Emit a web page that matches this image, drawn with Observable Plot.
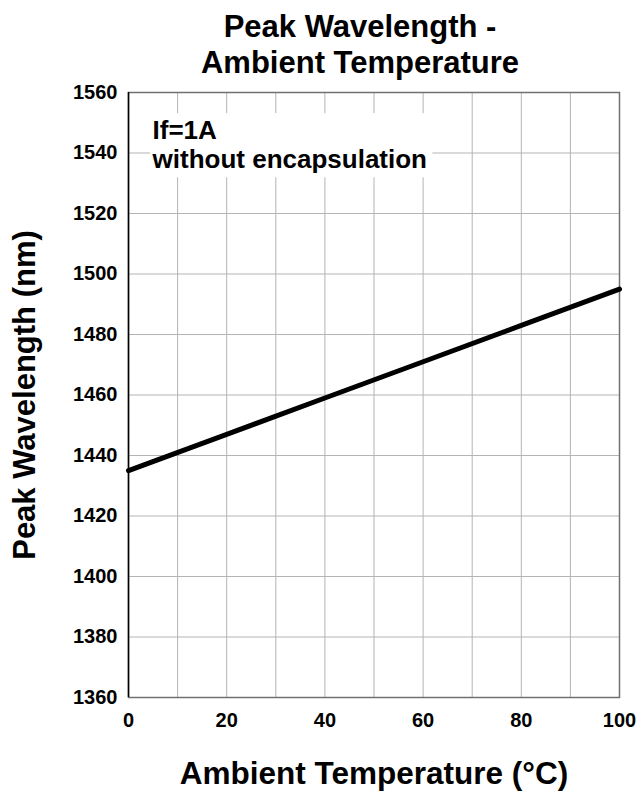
<!DOCTYPE html>
<html>
<head>
<meta charset="utf-8">
<script src="https://cdn.jsdelivr.net/npm/d3@7"></script>
<script src="https://cdn.jsdelivr.net/npm/@observablehq/plot@0.6"></script>
<style>
  html, body { margin: 0; padding: 0; background: #fff; }
  svg { display: block; }
</style>
</head>
<body>
<div id="chart"></div>
<script>
// Data
const temperature = [0, 20, 40, 60, 80, 100];               // °C
const wavelength  = [1435, 1447, 1459, 1471, 1483, 1495];   // nm

const xTickLabels = [0, 20, 40, 60, 80, 100];
const xGridTicks  = [0, 10, 20, 30, 40, 50, 60, 70, 80, 90, 100];
const yTickLabels = [1360, 1380, 1400, 1420, 1440, 1460, 1480, 1500, 1520, 1540, 1560];

const titleLines = ["Peak Wavelength -", "Ambient Temperature"];
const xLabel = "Ambient Temperature (°C)";
const yLabel = "Peak Wavelength (nm)";
const noteText = "If=1A\nwithout encapsulation";
// annotation placement (data coordinates)
const noteBox = [{x1: 4.5, x2: 62, y1: 1531.8, y2: 1553}];
const noteAnchor = [{x: 4.9, y: 1534.9}];

const points = temperature.map((t, i) => ({t, w: wavelength[i]}));

const font = "'Liberation Sans', Arial, Helvetica, sans-serif";

const chart = Plot.plot({
  width: 638,
  height: 796,
  marginLeft: 128,
  marginRight: 19,
  marginTop: 92,
  marginBottom: 99,
  style: {fontFamily: font, fontWeight: "bold", color: "#000", background: "#fff"},
  x: {domain: [0, 100]},
  y: {domain: [1360, 1560]},
  marks: [
    Plot.gridX(xGridTicks, {stroke: "#b4b4b4", strokeOpacity: 1, strokeWidth: 1}),
    Plot.gridY(yTickLabels, {stroke: "#b4b4b4", strokeOpacity: 1, strokeWidth: 1}),
    Plot.rect(noteBox, {x1: "x1", x2: "x2", y1: "y1", y2: "y2", fill: "white"}),
    Plot.frame({stroke: "#707070", strokeWidth: 1.5}),
    Plot.ruleX([0], {stroke: "#000", strokeWidth: 1.5}),
    Plot.axisX(xTickLabels, {tickSize: 0, tickPadding: 15, fontSize: 20, fontWeight: "bold", label: null, tickFormat: d => String(d)}),
    Plot.axisY(yTickLabels, {tickSize: 0, tickPadding: 11, fontSize: 20, fontWeight: "bold", label: null, tickFormat: d => String(d)}),
    Plot.line(points, {x: "t", y: "w", stroke: "#000", strokeWidth: 5}),
    Plot.text(noteAnchor, {x: "x", y: "y", text: () => noteText, textAnchor: "start", lineAnchor: "bottom", lineHeight: 1.12, fontSize: 26, fontWeight: "bold", fill: "#000"}),
    Plot.text([titleLines[0]], {frameAnchor: "top", dx: -14, dy: -56, lineAnchor: "bottom", fontSize: 31, fontWeight: "bold", fill: "#000"}),
    Plot.text([titleLines[1]], {frameAnchor: "top", dx: -14, dy: -19.5, lineAnchor: "bottom", fontSize: 31, fontWeight: "bold", fill: "#000"}),
    Plot.text([xLabel], {frameAnchor: "bottom", dy: 86, lineAnchor: "bottom", fontSize: 31.5, fontWeight: "bold", fill: "#000"}),
    Plot.text([yLabel], {frameAnchor: "left", dx: -93.5, rotate: -90, textAnchor: "middle", lineAnchor: "bottom", fontSize: 31, fontWeight: "bold", fill: "#000"})
  ]
});

document.getElementById("chart").appendChild(chart);
</script>
</body>
</html>
